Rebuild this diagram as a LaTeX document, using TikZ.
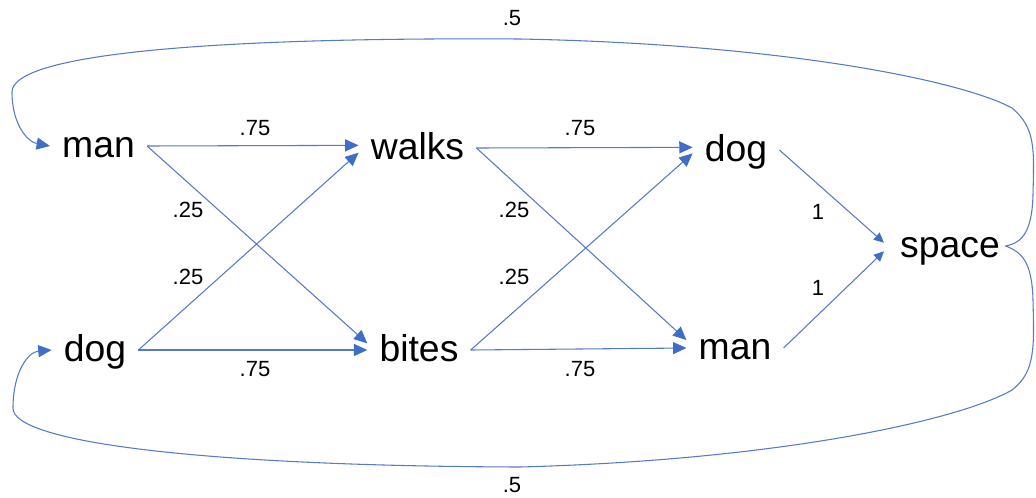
\documentclass[tikz,border=0pt]{standalone}
\usepackage{fontspec}
\setmainfont{Liberation Sans}
\usetikzlibrary{arrows.meta}
\definecolor{edgeblue}{RGB}{84,122,200}
\definecolor{tipblue}{RGB}{62,110,200}
\begin{document}
\begin{tikzpicture}[x=0.75pt,y=-0.75pt,
  word/.style={font=\fontsize{28}{30}\selectfont, inner xsep=9pt, inner ysep=0pt, text height=22pt, text depth=5pt},
  wlabel/.style={font=\fontsize{16.5}{18}\selectfont, inner sep=1pt},
  conn/.style={draw=edgeblue, line width=0.8pt, -{Triangle[length=10pt,width=9pt,color=tipblue,fill=tipblue]}},
  conns/.style={draw=edgeblue, line width=0.8pt, -{Triangle[length=7.5pt,width=7pt,color=tipblue,fill=tipblue]}}]
\useasboundingbox (0,0) rectangle (1036,497);
% words
\node[word] (man1) at (98.5,146) {man};
\node[word] (dog1) at (95,350) {dog};
\node[word] (walks) at (417.5,148) {walks};
\node[word] (bites) at (419,350) {bites};
\node[word] (dog2) at (736,150) {dog};
\node[word] (man2) at (735,348) {man};
\node[word, inner xsep=4pt] (space) at (950,246) {space};
% first layer
\draw[conn] (man1.east) -- ([yshift=2pt]walks.west);
\draw[conn] (man1.east) -- ([yshift=5pt]bites.west);
\draw[conn] (dog1.east) -- ([yshift=-3.5pt]walks.west);
\draw[conn] (dog1.east) -- (bites.west);
% second layer
\draw[conn] (walks.east) -- ([yshift=2pt]dog2.west);
\draw[conn] (walks.east) -- ([yshift=6pt]man2.west);
\draw[conn] (bites.east) -- ([yshift=-2.5pt]dog2.west);
\draw[conn] (bites.east) -- (man2.west);
% to space
\draw[conns] (dog2.east) -- ([xshift=-8pt,yshift=2.5pt]space.west);
\draw[conns] (man2.east) -- ([xshift=-8pt,yshift=-4pt]space.west);
% feedback loops
\draw[conn] (space.east) .. controls (1022,243) and (1032,232) .. (1033,195)
  .. controls (1034,150) and (1036,128) .. (1012,108)
  .. controls (960,80) and (780,44) .. (520,39)
  .. controls (200,37) and (12,55) .. (12,92)
  .. controls (12,125) and (28,142) .. (man1.west);
\draw[conn] (space.east) .. controls (1022,252) and (1032,262) .. (1033,300)
  .. controls (1034,345) and (1036,372) .. (1012,390)
  .. controls (960,420) and (780,460) .. (520,467)
  .. controls (200,466) and (12,442) .. (13,408)
  .. controls (13,372) and (28,352) .. (dog1.west);
% labels
\node[wlabel] (l1) at (255,128) {.75};
\node[wlabel] (l2) at (188,210) {.25};
\node[wlabel] (l3) at (188,277) {.25};
\node[wlabel] (l4) at (255,369) {.75};
\node[wlabel] (l5) at (580,128) {.75};
\node[wlabel] (l6) at (514,210) {.25};
\node[wlabel] (l7) at (514,277) {.25};
\node[wlabel] (l8) at (580,369) {.75};
\node[wlabel] (l9) at (818,212) {1};
\node[wlabel] (l10) at (818,288) {1};
\node[wlabel] (l11) at (512,18) {.5};
\node[wlabel] (l12) at (512,485) {.5};
\end{tikzpicture}
\end{document}
